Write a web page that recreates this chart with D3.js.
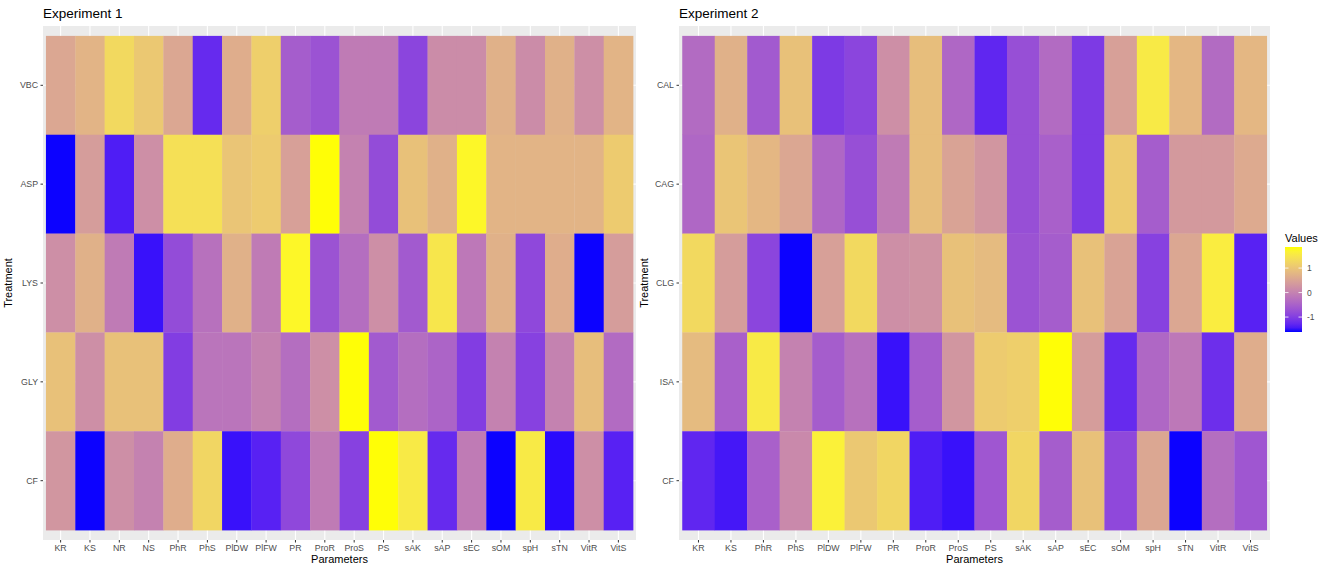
<!DOCTYPE html>
<html lang="en">
<head>
    <meta charset="UTF-8">
    <title>Heatmaps</title>
    <script src="https://cdn.jsdelivr.net/npm/d3@7"></script>
    <style>
        html, body {
            margin: 0;
            padding: 0;
            background: #fff;
            overflow: hidden;
        }
        text {
            font-family: "Liberation Sans", Arial, sans-serif;
        }
    </style>
</head>
<body>
</body>
<script>
    // experiment 1
    let treat1 = ['VBC', 'ASP', 'LYS', 'GLY', 'CF'];
    let params1 = ['KR', 'KS', 'NR', 'NS', 'PhR', 'PhS', 'PlDW', 'PlFW', 'PR', 'ProR',
        'ProS', 'PS', 'sAK', 'sAP', 'sEC', 'sOM', 'spH', 'sTN', 'VitR', 'VitS'];
    let vals1 = [
        [0.55, 0.75, 1.3, 1.05, 0.55, -1.25, 0.65, 1.15, -0.55, -0.7, -0.1, -0.1, -0.9, 0.15, 0.15, 0.7, 0.15, 0.7, 0.2, 0.75],
        [-1.6, 0.4, -1.4, 0.2, 1.4, 1.4, 1.0, 1.1, 0.45, 1.85, 0.0, -0.8, 0.95, 0.7, 1.75, 0.75, 0.75, 0.75, 0.75, 1.1],
        [0.2, 0.7, -0.1, -1.5, -0.8, -0.25, 0.7, -0.1, 1.75, -0.7, -0.3, 0.2, -0.6, 1.5, -0.15, 0.7, -0.85, 0.65, -1.6, 0.4],
        [0.95, 0.2, 0.95, 0.95, -1.0, -0.2, -0.2, 0.0, -0.3, 0.2, 1.85, -0.6, -0.3, -0.45, -1.0, 0.0, -0.95, 0.0, 0.9, -0.35],
        [0.3, -1.6, 0.2, 0.0, 0.65, 1.25, -1.5, -1.35, -0.85, -0.1, -0.95, 1.85, 1.55, -1.25, -0.1, -1.6, 1.55, -1.55, 0.2, -1.35]
    ];

    // experiment 2
    let treat2 = ['CAL', 'CAG', 'CLG', 'ISA', 'CF'];
    let params2 = ['KR', 'KS', 'PhR', 'PhS', 'PlDW', 'PlFW', 'PR', 'ProR', 'ProS',
        'PS', 'sAK', 'sAP', 'sEC', 'sOM', 'spH', 'sTN', 'VitR', 'VitS'];
    let vals2 = [
        [-0.35, 0.7, -0.6, 0.95, -1.05, -0.9, 0.2, 0.9, -0.4, -1.3, -0.75, -0.35, -1.05, 0.45, 1.55, 0.8, -0.35, 0.8],
        [-0.4, 1.0, 0.8, 0.55, -0.4, -0.75, -0.1, 0.9, 0.5, 0.3, -0.75, -0.5, -1.05, 1.1, -0.55, 0.35, 0.35, 0.6],
        [1.3, 0.4, -0.9, -1.6, 0.45, 1.3, 0.2, 0.25, 0.95, 0.85, -0.7, -0.55, 0.95, 0.5, -0.95, 0.55, 1.6, -1.35],
        [0.85, -0.5, 1.55, 0.0, -0.55, -0.25, -1.5, -0.55, 0.3, 1.1, 1.15, 1.85, 0.4, -1.25, -0.4, -0.15, -1.2, 0.65],
        [-1.3, -1.45, -0.5, 0.1, 1.65, 1.05, 1.25, -1.4, -1.5, -0.65, 1.25, -0.55, 0.95, -0.85, 0.55, -1.6, -0.3, -0.65]
    ];

    let legendTicks = [-1, 0, 1];

    let width = 1325, height = 567;

    let svg = d3.select('body').append('svg')
        .attr('width', width)
        .attr('height', height);

    // Lab with D65 white (the way farver/ggplot does it), d3.lab uses D50
    function toLab(hex) {
        let c = d3.rgb(hex);
        let lin = v => { v /= 255; return v <= 0.04045 ? v / 12.92 : Math.pow((v + 0.055) / 1.055, 2.4); };
        let r = lin(c.r), g = lin(c.g), b = lin(c.b);
        let X = (0.4124564 * r + 0.3575761 * g + 0.1804375 * b) / 0.95047;
        let Y = (0.2126729 * r + 0.7151522 * g + 0.0721750 * b);
        let Z = (0.0193339 * r + 0.1191920 * g + 0.9503041 * b) / 1.08883;
        let f = t => t > 0.008856 ? Math.cbrt(t) : 7.787 * t + 16 / 116;
        return [116 * f(Y) - 16, 500 * (f(X) - f(Y)), 200 * (f(Y) - f(Z))];
    }
    function fromLab(L, a, bb) {
        let fy = (L + 16) / 116, fx = fy + a / 500, fz = fy - bb / 200;
        let inv = t => t * t * t > 0.008856 ? t * t * t : (t - 16 / 116) / 7.787;
        let X = inv(fx) * 0.95047, Y = inv(fy), Z = inv(fz) * 1.08883;
        let r = 3.2404542 * X - 1.5371385 * Y - 0.4985314 * Z;
        let g = -0.9692660 * X + 1.8760108 * Y + 0.0415560 * Z;
        let b = 0.0556434 * X - 0.2040259 * Y + 1.0572252 * Z;
        let gam = v => {
            v = v <= 0.0031308 ? 12.92 * v : 1.055 * Math.pow(v, 1 / 2.4) - 0.055;
            return Math.round(Math.max(0, Math.min(1, v)) * 255);
        };
        return d3.rgb(gam(r), gam(g), gam(b)).formatHex();
    }
    let lowLab = toLab('#0000ff'), highLab = toLab('#ffff00');
    let interp = t => fromLab(
        lowLab[0] + t * (highLab[0] - lowLab[0]),
        lowLab[1] + t * (highLab[1] - lowLab[1]),
        lowLab[2] + t * (highLab[2] - lowLab[2]));

    let allVals = vals1.flat().concat(vals2.flat());
    let ext = d3.extent(allVals);
    let color = d3.scaleSequential(interp)
        .domain([ext[0] - 0.01, ext[1] + 0.01]);

    let panelTop = 26, panelBottom = 540;

    function drawPanel(title, rows, cols, values, x0, x1) {
        let g = svg.append('g');

        let x = d3.scaleBand().domain(cols).range([x0, x1]).paddingInner(0).paddingOuter(0.1);
        let y = d3.scaleBand().domain(rows).range([panelTop, panelBottom]).paddingInner(0).paddingOuter(0.1);

        g.append('rect')
            .attr('x', x0).attr('y', panelTop)
            .attr('width', x1 - x0).attr('height', panelBottom - panelTop)
            .attr('fill', '#ebebeb');

        // grid
        g.selectAll('line.gx').data(cols).enter().append('line')
            .attr('x1', d => x(d) + x.bandwidth() / 2).attr('x2', d => x(d) + x.bandwidth() / 2)
            .attr('y1', panelTop).attr('y2', panelBottom)
            .attr('stroke', '#fff').attr('stroke-width', 1.1);
        g.selectAll('line.gy').data(rows).enter().append('line')
            .attr('y1', d => y(d) + y.bandwidth() / 2).attr('y2', d => y(d) + y.bandwidth() / 2)
            .attr('x1', x0).attr('x2', x1)
            .attr('stroke', '#fff').attr('stroke-width', 1.1);

        let cells = [];
        rows.forEach((r, i) => cols.forEach((c, j) => cells.push({r: r, c: c, v: values[i][j]})));

        g.selectAll('rect.cell').data(cells).enter().append('rect')
            .attr('x', d => x(d.c))
            .attr('y', d => y(d.r))
            .attr('width', x.bandwidth() + 0.3)
            .attr('height', y.bandwidth() + 0.3)
            .attr('fill', d => color(d.v));

        // axes
        let xAxis = g.append('g')
            .attr('transform', `translate(0, ${panelBottom})`)
            .call(d3.axisBottom(x).tickSize(2.5).tickPadding(2));
        let yAxis = g.append('g')
            .attr('transform', `translate(${x0}, 0)`)
            .call(d3.axisLeft(y).tickSize(2.5).tickPadding(2.5));
        [xAxis, yAxis].forEach(a => {
            a.select('.domain').remove();
            a.selectAll('line').attr('stroke', '#333');
            a.selectAll('text').attr('fill', '#4d4d4d')
                .style('font-family', '"Liberation Sans", Arial, sans-serif')
                .style('font-size', '8.8px');
        });

        g.append('text')
            .attr('x', (x0 + x1) / 2).attr('y', 562.5)
            .attr('text-anchor', 'middle')
            .style('font-size', '11px')
            .text('Parameters');

        g.append('text')
            .attr('transform', `translate(${x0 - 31}, ${(panelTop + panelBottom) / 2}) rotate(-90)`)
            .attr('text-anchor', 'middle')
            .style('font-size', '11px')
            .text('Treatment');

        g.append('text')
            .attr('x', x0).attr('y', 18)
            .style('font-size', '13.5px')
            .text(title);
    }

    drawPanel('Experiment 1', treat1, params1, vals1, 43, 636);
    drawPanel('Experiment 2', treat2, params2, vals2, 679, 1270);

    // legend
    let lgX = 1285, lgW = 17, lgTop = 247, lgBot = 332;
    let defs = svg.append('defs');
    let grad = defs.append('linearGradient')
        .attr('id', 'lg').attr('x1', 0).attr('y1', 1).attr('x2', 0).attr('y2', 0);
    d3.range(0, 1.0001, 0.05).forEach(t => {
        grad.append('stop').attr('offset', t)
            .attr('stop-color', color(color.domain()[0] + t * (color.domain()[1] - color.domain()[0])));
    });

    let ly = d3.scaleLinear().domain(color.domain()).range([lgBot, lgTop]);

    svg.append('text')
        .attr('x', lgX).attr('y', 242)
        .style('font-size', '11px')
        .text('Values');

    svg.append('rect')
        .attr('x', lgX).attr('y', lgTop)
        .attr('width', lgW).attr('height', lgBot - lgTop)
        .attr('fill', 'url(#lg)');

    let lt = svg.append('g').selectAll('g').data(legendTicks).enter().append('g');
    lt.append('line')
        .attr('x1', lgX).attr('x2', lgX + 3.5)
        .attr('y1', d => ly(d)).attr('y2', d => ly(d))
        .attr('stroke', '#fff').attr('stroke-width', 0.8);
    lt.append('line')
        .attr('x1', lgX + lgW - 3.5).attr('x2', lgX + lgW)
        .attr('y1', d => ly(d)).attr('y2', d => ly(d))
        .attr('stroke', '#fff').attr('stroke-width', 0.8);
    lt.append('text')
        .attr('x', lgX + lgW + 5)
        .attr('y', d => ly(d) + 3)
        .attr('fill', '#4d4d4d')
        .style('font-size', '8.5px')
        .text(d => d < 0 ? '-' + Math.abs(d) : d);
</script>
</html>
